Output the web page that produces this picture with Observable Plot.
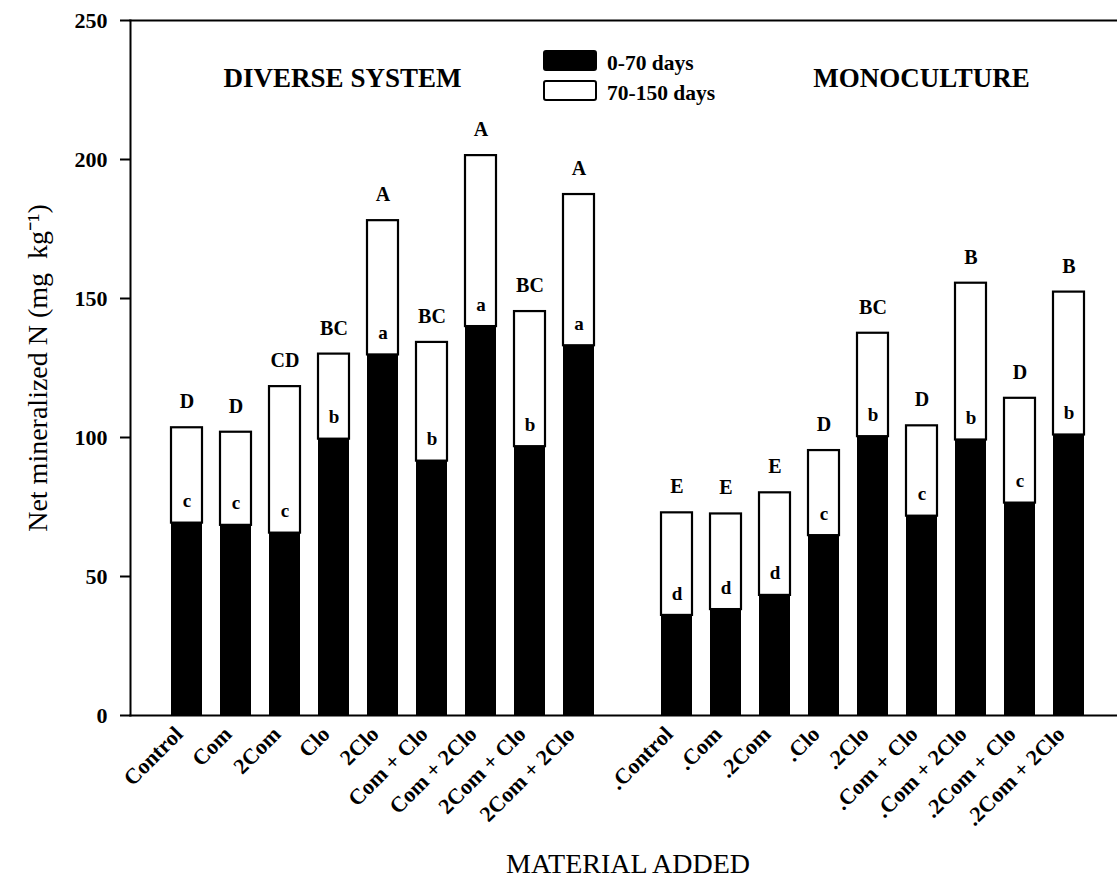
<!DOCTYPE html>
<html>
<head>
<meta charset="utf-8">
<script src="https://cdn.jsdelivr.net/npm/d3@7"></script>
<script src="https://cdn.jsdelivr.net/npm/@observablehq/plot@0.6"></script>
<style>
  html, body { margin: 0; padding: 0; background: #fff; overflow: hidden; }
</style>
</head>
<body>
<div id="chart"></div>
<script>
// Treatments in the diverse cropping system and in the monoculture
const diverseNames = ["Control", "Com", "2Com", "Clo", "2Clo", "Com + Clo", "Com + 2Clo", "2Com + Clo", "2Com + 2Clo"];
const monoNames = [".Control", ".Com", ".2Com", ".Clo", ".2Clo", ".Com + Clo", ".Com + 2Clo", ".2Com + Clo", ".2Com + 2Clo"];

// Net mineralized N (mg kg-1): cumulative at 70 days and at 150 days
const diverseEarly = [69.2, 68.4, 65.6, 99.4, 129.7, 91.5, 139.9, 96.7, 133.0];
const diverseTotal = [103.5, 101.9, 118.3, 130.0, 178.0, 134.2, 201.4, 145.3, 187.4];
const monoEarly = [36.0, 38.1, 43.2, 64.7, 100.3, 71.7, 99.1, 76.4, 100.9];
const monoTotal = [72.9, 72.5, 80.1, 95.3, 137.5, 104.2, 155.5, 114.1, 152.3];

// Mean separation letters: upper case for 0-150 days, lower case for 0-70 days
const diverseUpper = ["D", "D", "CD", "BC", "A", "BC", "A", "BC", "A"];
const diverseLower = ["c", "c", "c", "b", "a", "b", "a", "b", "a"];
const monoUpper = ["E", "E", "E", "D", "BC", "D", "B", "D", "B"];
const monoLower = ["d", "d", "d", "c", "b", "c", "b", "c", "b"];

const periods = ["0-70 days", "70-150 days"];
const yTicks = [0, 50, 100, 150, 200, 250];
const spacer = " ";

const rows = [
  ...diverseNames.map((name, i) => ({name, early: diverseEarly[i], total: diverseTotal[i], upper: diverseUpper[i], lower: diverseLower[i]})),
  ...monoNames.map((name, i) => ({name, early: monoEarly[i], total: monoTotal[i], upper: monoUpper[i], lower: monoLower[i]}))
];

const serif = "'Liberation Serif', 'Times New Roman', serif";

// Legend drawn inside the frame, near the top centre
function legend(index, scales, values, dimensions) {
  const g = d3.create("svg:g").attr("font-family", serif).attr("text-anchor", "start");
  const fills = ["black", "white"];
  periods.forEach((label, i) => {
    const y = dimensions.marginTop + 31 + i * 30;
    g.append("rect")
      .attr("x", 544).attr("y", y).attr("width", 52).attr("height", 19)
      .attr("rx", 2)
      .attr("fill", fills[i]).attr("stroke", "black").attr("stroke-width", 2);
    g.append("text")
      .attr("x", 607).attr("y", y + 11).attr("dy", "0.35em")
      .attr("font-size", 21.5).attr("font-weight", "bold")
      .text(label);
  });
  return g.node();
}

const chart = Plot.plot({
  width: 1117,
  height: 879,
  marginLeft: 130,
  marginRight: 0,
  marginTop: 20,
  marginBottom: 164,
  style: {fontFamily: serif, background: "white", color: "black"},
  x: {
    type: "band",
    domain: [...diverseNames, spacer, ...monoNames],
    paddingInner: 0.36,
    paddingOuter: 0,
    insetLeft: 34,
    insetRight: 26,
    label: null
  },
  y: {domain: [0, 250], label: null},
  marks: [
    Plot.frame({anchor: "left", strokeWidth: 2}),
    Plot.frame({anchor: "top", strokeWidth: 2}),
    Plot.frame({anchor: "bottom", strokeWidth: 2}),
    Plot.axisY({ticks: yTicks, tickSize: 10, tickPadding: 13, strokeWidth: 2, fontSize: 22, fontWeight: "bold", label: null}),
    Plot.axisX({
      ticks: [...diverseNames, ...monoNames],
      tickSize: 0, tickPadding: 15, tickRotate: -45, dx: -8,
      fontSize: 22, fontWeight: "bold", label: null
    }),
    Plot.barY(rows, {x: "name", y1: 0, y2: "early", fill: "black"}),
    Plot.barY(rows, {x: "name", y1: "early", y2: "total", fill: "white", stroke: "black", strokeWidth: 2.2}),
    Plot.text(rows, {x: "name", y: "total", text: "upper", dy: -26, fontSize: 20, fontWeight: "bold"}),
    Plot.text(rows, {x: "name", y: "early", text: "lower", dy: -22, fontSize: 19, fontWeight: "bold"}),
    Plot.text(["DIVERSE SYSTEM"], {frameAnchor: "top-left", dx: 212, dy: 47, fontSize: 27, fontWeight: "bold", textAnchor: "middle"}),
    Plot.text(["MONOCULTURE"], {frameAnchor: "top-left", dx: 791, dy: 47, fontSize: 27, fontWeight: "bold", textAnchor: "middle"}),
    Plot.text(["Net mineralized N (mg  kg\u207B\u00B9)"], {frameAnchor: "left", dx: -92, rotate: -90, fontSize: 28, textAnchor: "middle"}),
    Plot.text(["MATERIAL ADDED"], {frameAnchor: "bottom", dx: 4, dy: 157, fontSize: 28}),
    legend
  ]
});

document.getElementById("chart").appendChild(chart);
</script>
</body>
</html>
